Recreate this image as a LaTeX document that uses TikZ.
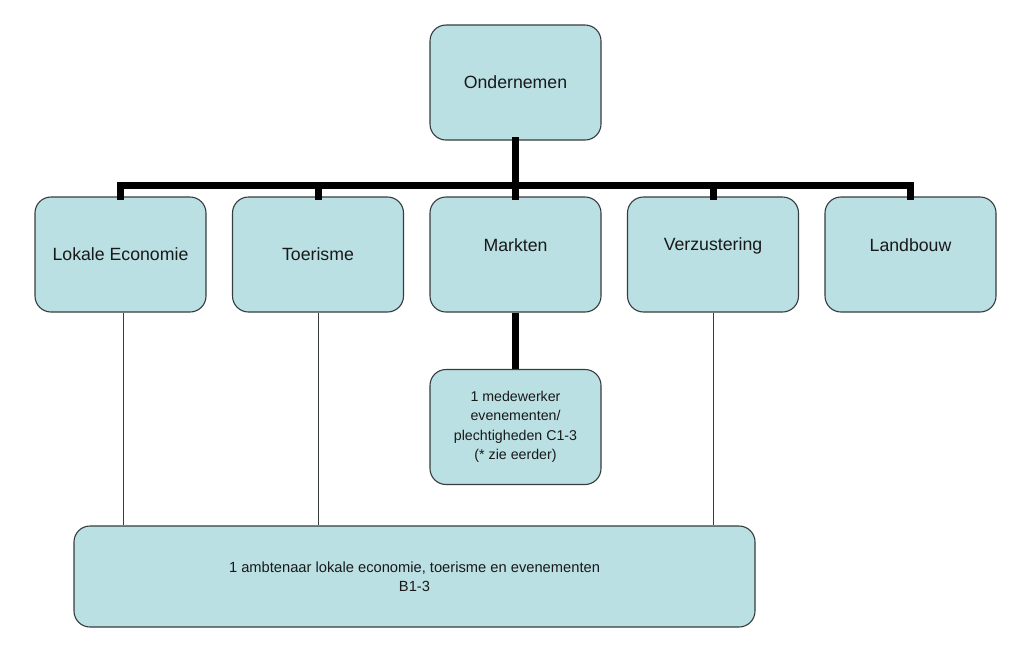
\documentclass[tikz,border=0pt]{standalone}
\usepackage{fontspec}
\setmainfont{Liberation Sans}
\definecolor{boxfill}{RGB}{186,224,228}
\definecolor{boxline}{RGB}{55,60,62}
\definecolor{txt}{RGB}{25,25,25}
\begin{document}
\begin{tikzpicture}[x=1pt,y=-1pt,
  orgbox/.style={draw=boxline, line width=1.1pt, fill=boxfill, rounded corners=16pt,
    minimum width=171pt, minimum height=115pt, inner sep=0pt, text=txt, align=center},
  bigfont/.style={font=\fontsize{17.7}{21}\selectfont},
  smallfont/.style={font=\fontsize{14.2}{19.5}\selectfont},
  ambfont/.style={font=\fontsize{14.7}{19}\selectfont},
  bus/.style={line width=7pt, line join=miter, line cap=rect},
  thin/.style={line width=0.9pt, draw=boxline}]
\useasboundingbox (0,0) rectangle (1024,662);
\fill[white] (0,0) rectangle (1024,662);

\node[orgbox, bigfont] (top) at (515.5,82.5) {Ondernemen};

\node[orgbox, bigfont] (b1) at (120.5,254.5) {Lokale Economie};
\node[orgbox, bigfont] (b2) at (318,254.5) {Toerisme};
\node[orgbox, label={[bigfont, text=txt, yshift=9pt]center:Markten}] (b3) at (515.5,254.5) {};
\node[orgbox, label={[bigfont, text=txt, yshift=9pt]center:Verzustering}] (b4) at (713,254.5) {};
\node[orgbox, label={[bigfont, text=txt, yshift=9pt]center:Landbouw}] (b5) at (910.5,254.5) {};

\node[orgbox, smallfont] (sub) at (515.5,427) {1 medewerker\\evenementen/\\plechtigheden C1-3\\(* zie eerder)};

\node[orgbox, ambfont, minimum width=681pt, minimum height=101pt] (amb) at (414.5,576.5) {1 ambtenaar lokale economie, toerisme en evenementen\\B1-3};

\coordinate (busy) at (0,185);
\draw[bus] (top.south) -- (top.south |- busy);
\draw[bus] (b1.north) -- (b1.north |- busy) -- (b5.north |- busy) -- (b5.north);
\draw[bus] (b2.north) -- (b2.north |- busy);
\draw[bus] (b3.north) -- (b3.north |- busy);
\draw[bus] (b4.north) -- (b4.north |- busy);
\draw[line width=7pt] (b3.south) -- (sub.north);

\draw[thin] ([xshift=3pt]b1.south) -- ([xshift=3pt]b1.south |- amb.north);
\draw[thin] (b2.south) -- (b2.south |- amb.north);
\draw[thin] (b4.south) -- (b4.south |- amb.north);
\end{tikzpicture}
\end{document}
